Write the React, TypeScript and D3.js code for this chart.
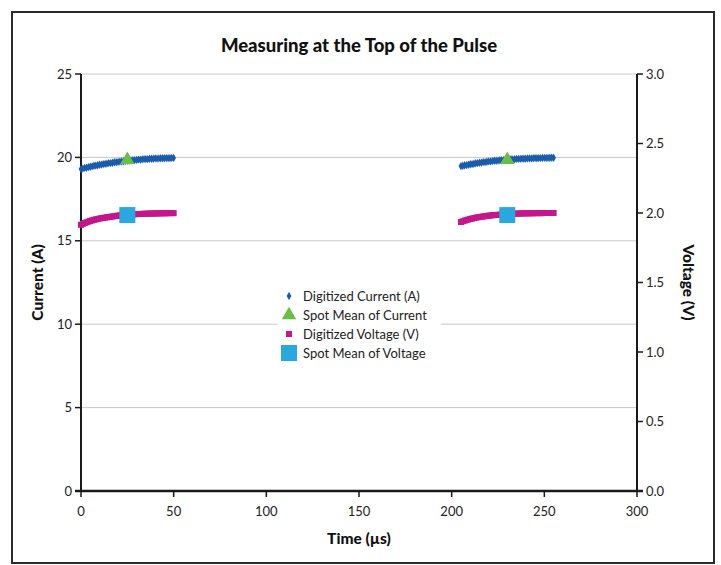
import React from 'react';
import * as d3 from 'd3';

// digitized samples, 1 µs apart
const timeA = [0,1,2,3,4,5,6,7,8,9,10,11,12,13,14,15,16,17,18,19,20,21,22,23,24,25,26,27,28,29,30,31,32,33,34,35,36,37,38,39,40,41,42,43,44,45,46,47,48,49,50];
const timeB = [205,206,207,208,209,210,211,212,213,214,215,216,217,218,219,220,221,222,223,224,225,226,227,228,229,230,231,232,233,234,235,236,237,238,239,240,241,242,243,244,245,246,247,248,249,250,251,252,253,254,255];

const currentA = [19.30,19.33,19.37,19.38,19.42,19.44,19.46,19.50,19.51,19.53,19.56,19.57,19.60,19.61,19.63,19.66,19.66,19.68,19.71,19.71,19.73,19.75,19.76,19.77,19.79,19.80,19.81,19.82,19.84,19.84,19.85,19.87,19.87,19.88,19.90,19.90,19.90,19.92,19.92,19.92,19.94,19.93,19.94,19.95,19.95,19.95,19.96,19.96,19.96,19.97,19.97];
const voltageA = [1.915,1.922,1.928,1.933,1.938,1.943,1.947,1.951,1.954,1.957,1.960,1.963,1.965,1.967,1.969,1.971,1.973,1.975,1.977,1.979,1.981,1.983,1.984,1.985,1.986,1.987,1.988,1.989,1.990,1.991,1.992,1.993,1.993,1.994,1.994,1.995,1.995,1.996,1.996,1.996,1.997,1.997,1.997,1.998,1.998,1.998,1.998,1.999,1.999,1.999,1.999];
const currentB = [19.48,19.50,19.53,19.54,19.56,19.59,19.60,19.62,19.65,19.66,19.68,19.69,19.72,19.72,19.74,19.76,19.76,19.78,19.80,19.80,19.81,19.83,19.83,19.84,19.86,19.86,19.87,19.89,19.88,19.89,19.91,19.91,19.91,19.93,19.92,19.93,19.94,19.94,19.94,19.95,19.96,19.95,19.96,19.96,19.97,19.97,19.97,19.97,19.98,19.98,19.98];
const voltageB = [1.935,1.940,1.945,1.949,1.953,1.957,1.960,1.963,1.966,1.969,1.971,1.973,1.975,1.977,1.979,1.981,1.982,1.984,1.985,1.986,1.987,1.988,1.989,1.990,1.991,1.992,1.993,1.994,1.994,1.995,1.995,1.996,1.996,1.997,1.997,1.997,1.998,1.998,1.998,1.998,1.999,1.999,1.999,1.999,1.999,2.000,2.000,2.000,2.000,2.000,2.000];

const spotTimes = [25, 230];
const spotCurrent = [19.85, 19.85];
const spotVoltage = [1.985, 1.985];

const xTicks = [0, 50, 100, 150, 200, 250, 300];
const currentTicks = [0, 5, 10, 15, 20, 25];
const voltageTicks = [0, 0.5, 1.0, 1.5, 2.0, 2.5, 3.0];

const legendLabels = ['Digitized Current (A)', 'Spot Mean of Current', 'Digitized Voltage (V)', 'Spot Mean of Voltage'];

const BLUE = '#1b5cab';
const GREEN = '#6abd45';
const MAGENTA = '#c5168c';
const CYAN = '#29a8e0';
const FONT = 'Lato, "Open Sans", sans-serif';

const left = 81, right = 637, top = 74, bottom = 491;

const App = () => {
  const x = d3.scaleLinear().domain([0, 300]).range([left, right]);
  const yA = d3.scaleLinear().domain([0, 25]).range([bottom, top]);
  const yV = d3.scaleLinear().domain([0, 3]).range([bottom, top]);

  const diamond = d3.symbol().type(d3.symbolDiamond).size(20)() as string;
  const triangle = d3.symbol().type(d3.symbolTriangle).size(90)() as string;

  const currentPts = [...timeA.map((t, i) => [t, currentA[i]]), ...timeB.map((t, i) => [t, currentB[i]])];
  const voltagePts = [...timeA.map((t, i) => [t, voltageA[i]]), ...timeB.map((t, i) => [t, voltageB[i]])];

  const legX = 289, legY = 296, legStep = 19;

  return (
    <svg width={721} height={565} style={{ position: 'absolute', left: 0, top: 0 }} fontFamily={FONT}>
      <rect x={0} y={0} width={721} height={565} fill="#fff" />
      <rect x={12} y={12} width={702} height={551} fill="#fff" stroke="#2b2b2b" strokeWidth={2} />
      <text x={359} y={52} textAnchor="middle" fontSize={18.5} fontWeight={900} fill="#111">
        Measuring at the Top of the Pulse
      </text>

      {/* grid */}
      {currentTicks.filter(d => d > 0).map(d => (
        <line key={d} x1={left} x2={right} y1={yA(d)} y2={yA(d)} stroke="#c8c8c8" strokeWidth={1} />
      ))}

      {/* axes */}
      <line x1={left} x2={left} y1={top} y2={bottom} stroke="#1a1a1a" strokeWidth={2} />
      <line x1={right} x2={right} y1={top} y2={bottom} stroke="#1a1a1a" strokeWidth={2} />
      <line x1={left - 6} x2={right + 6} y1={bottom} y2={bottom} stroke="#1a1a1a" strokeWidth={2.5} />
      {currentTicks.map(d => (
        <g key={'l' + d}>
          <line x1={left - 6} x2={left} y1={yA(d)} y2={yA(d)} stroke="#1a1a1a" strokeWidth={1.5} />
          <text x={left - 9} y={yA(d) + 4.5} textAnchor="end" fontSize={13} fill="#222">{d}</text>
        </g>
      ))}
      {voltageTicks.map(d => (
        <g key={'r' + d}>
          <line x1={right} x2={right + 6} y1={yV(d)} y2={yV(d)} stroke="#1a1a1a" strokeWidth={1.5} />
          <text x={right + 9} y={yV(d) + 4.5} textAnchor="start" fontSize={13} fill="#222">{d.toFixed(1)}</text>
        </g>
      ))}
      {xTicks.map(d => (
        <g key={'b' + d}>
          <line x1={x(d)} x2={x(d)} y1={bottom} y2={bottom + 6} stroke="#1a1a1a" strokeWidth={1.5} />
          <text x={x(d)} y={bottom + 25} textAnchor="middle" fontSize={13} fill="#222">{d}</text>
        </g>
      ))}

      <text x={359} y={544} textAnchor="middle" fontSize={15.5} fontWeight={900} fill="#111">Time (µs)</text>
      <text transform={`translate(43,${(top + bottom) / 2}) rotate(-90)`} textAnchor="middle" fontSize={15.5} fontWeight={900} fill="#111">Current (A)</text>
      <text transform={`translate(683,${(top + bottom) / 2}) rotate(90)`} textAnchor="middle" fontSize={15.5} fontWeight={900} fill="#111">Voltage (V)</text>

      {/* series */}
      {voltagePts.map(([t, v], i) => (
        <rect key={'v' + i} x={x(t) - 3} y={yV(v) - 3} width={6} height={6} fill={MAGENTA} />
      ))}
      {currentPts.map(([t, c], i) => (
        <path key={'c' + i} d={diamond} transform={`translate(${x(t)},${yA(c)})`} fill={BLUE} />
      ))}
      {spotTimes.map((t, i) => (
        <path key={'st' + i} d={triangle} transform={`translate(${x(t)},${yA(spotCurrent[i])})`} fill={GREEN} />
      ))}
      {spotTimes.map((t, i) => (
        <rect key={'sv' + i} x={x(t) - 8} y={yV(spotVoltage[i]) - 8} width={16} height={16} fill={CYAN} />
      ))}

      {/* legend */}
      <rect x={278} y={284} width={163} height={78} fill="#fff" />
      <path d={diamond} transform={`translate(${legX},${legY})`} fill={BLUE} />
      <path d={triangle} transform={`translate(${legX},${legY + legStep})`} fill={GREEN} />
      <rect x={legX - 3} y={legY + 2 * legStep - 3} width={6} height={6} fill={MAGENTA} />
      <rect x={legX - 8} y={legY + 3 * legStep - 8} width={16} height={16} fill={CYAN} />
      {legendLabels.map((l, i) => (
        <text key={l} x={303} y={legY + i * legStep + 4.5} fontSize={13} fill="#222">{l}</text>
      ))}
    </svg>
  );
};

export default App;
